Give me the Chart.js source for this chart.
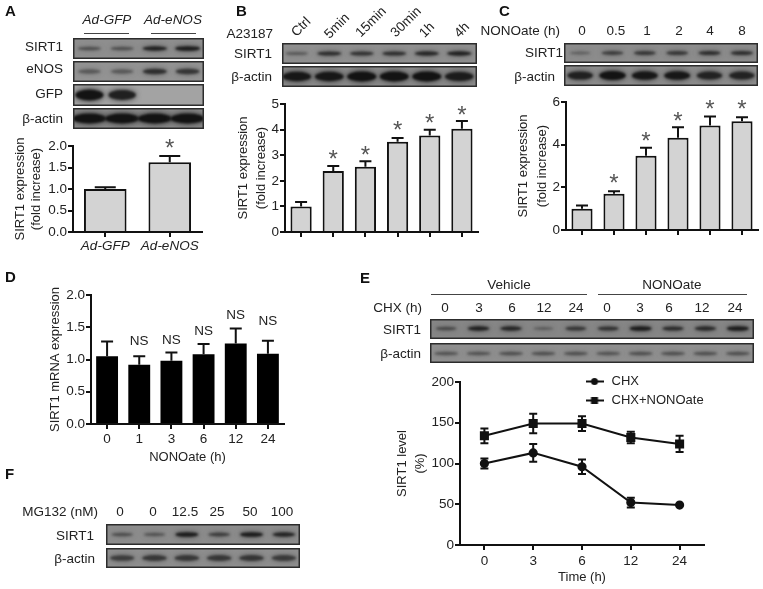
<!DOCTYPE html>
<html><head><meta charset="utf-8">
<script src="https://cdn.jsdelivr.net/npm/chart.js@4"></script>
<style>
html,body{margin:0;padding:0;background:#fff;width:763px;height:589px;overflow:hidden}
#page{position:relative;width:763px;height:589px;filter:blur(.4px)}
canvas{position:absolute;display:block}
.t{position:absolute;font:13.5px "Liberation Sans",Arial,sans-serif;color:#222;white-space:nowrap;line-height:16px}
.rule{position:absolute;height:1px;background:#444}
</style></head><body><div id="page"></div>
<script>
/* ---------- data ---------- */
const catA=['Ad-GFP','Ad-eNOS'];
const valA=[1.0,1.62];
const errA=[1.04,1.77];
const starA=[null,2.07];
const catB=['Ctrl','5min','15min','30min','1h','4h'];
const valB=[1.0,2.38,2.55,3.53,3.77,4.03];
const errB=[1.17,2.58,2.76,3.67,3.99,4.34];
const starB=[null,3.05,3.24,4.18,4.49,4.77];
const catC=['0','0.5','1','2','4','8'];
const valC=[1.0,1.7,3.48,4.32,4.9,5.1];
const errC=[1.15,1.82,3.85,4.82,5.32,5.28];
const starC=[null,2.44,4.45,5.39,5.91,5.91];
const catD=['0','1','3','6','12','24'];
const valD=[1.05,0.92,0.98,1.08,1.25,1.09];
const errD=[1.28,1.05,1.11,1.24,1.48,1.29];
const nsD=[null,1.29,1.305,1.44,1.69,1.60];
const catE=['0','3','6','12','24'];
const chx=[100,113,96,52,49];
const chxErr=[6,11,9,6,0];
const nono=[134,149,149,132,124];
const nonoErr=[9,12,9,7,10];
const catELanes=['0','3','6','12','24','0','3','6','12','24'];
const catF=['0','0','12.5','25','50','100'];
/* band intensities on the blots */
const bandA1=[.42,.42,.8,.85], bandA2=[.36,.36,.68,.62], bandA3=[1,.82,0,0], bandA4=[1,1,1,1];
const bandB1=[.35,.7,.65,.68,.75,.8], bandB2=[.9,.9,1,.95,.95,.85];
const bandC1=[.3,.55,.6,.6,.68,.68], bandC2=[.8,1,.9,.9,.78,.78];
const bandE1=[.45,.8,.75,.3,.6,.65,.85,.7,.72,.85], bandE2=[.4,.4,.42,.42,.42,.4,.42,.42,.42,.42];
const bandF1=[.42,.38,.85,.55,.85,.78], bandF2=[.55,.6,.6,.6,.62,.58];

/* ---------- helpers ---------- */
const page=document.getElementById('page');
const FONT='"Liberation Sans",Arial,sans-serif';
Chart.defaults.font.family=FONT; Chart.defaults.font.size=13; Chart.defaults.color='#222';
Chart.defaults.animation=false; Chart.defaults.responsive=false; Chart.defaults.devicePixelRatio=1;

function txt(s,x,y,align,css){ // y is the vertical centre; align l/c/r refers to x
  const d=document.createElement('div'); d.className='t'; d.textContent=s;
  const tx=align==='r'?'-100%':align==='c'?'-50%':'0';
  d.style.left=x+'px'; d.style.top=y+'px';
  d.style.transform=`translate(${tx},-50%)`+(css&&css.rot?` rotate(${css.rot}deg)`:'');
  if(css){ for(const k in css) if(k!=='rot') d.style[k]=css[k]; }
  page.appendChild(d); return d;
}
function rule(x1,x2,y){const d=document.createElement('div');d.className='rule';d.style.cssText=`left:${x1}px;width:${x2-x1}px;top:${y}px`;page.appendChild(d);}
function newCanvas(x,y,w,h){const c=document.createElement('canvas');c.width=w;c.height=h;c.style.left=x+'px';c.style.top=y+'px';c.style.width=w+'px';c.style.height=h+'px';page.appendChild(c);return c;}

function bandPlugin(o){return {id:'bands',
 beforeDatasetsDraw(chart){
  const c=chart.ctx, W=chart.width,H=chart.height;
  c.save();
  c.fillStyle=o.bg; c.fillRect(0,0,W,H);
  const meta=chart.getDatasetMeta(0), vals=chart.data.datasets[0].data;
  meta.data.forEach((el,i)=>{
    const v=vals[i]; if(!v) return;
    const cx=el.x+(o.dx||0), cy=H/2+(o.dy||0), w=o.w*(.84+.16*v), h=o.h*(.45+.55*v);
    c.filter='blur(2.5px)'; c.fillStyle=`rgba(50,50,50,${Math.min(.5,v*.55)})`;
    c.beginPath(); c.ellipse(cx,cy,w*.52,h*.62,0,0,Math.PI*2); c.fill();
    c.filter='blur(1.2px)'; c.fillStyle=`rgba(15,15,15,${Math.min(.95,v*1.0)})`;
    c.beginPath(); c.ellipse(cx,cy,w*.47,h*.42,0,0,Math.PI*2); c.fill();
  });
  c.filter='none';
  c.strokeStyle='#2c2c2c'; c.lineWidth=1.5; c.strokeRect(.75,.75,W-1.5,H-1.5);
  c.restore();
 }};}
function blot(x1,y1,x2,y2,lanes,vals,o){
  new Chart(newCanvas(x1,y1,x2-x1,y2-y1),{type:'bar',
    data:{labels:lanes,datasets:[{data:vals,backgroundColor:'rgba(0,0,0,0)',borderWidth:0}]},
    options:{layout:{padding:0},
      plugins:{legend:{display:false},tooltip:{enabled:false}},
      scales:{x:{display:false},y:{display:false,min:0,max:1}}},
    plugins:[bandPlugin(o)]});
}

function whisker(o){return {id:'whisker',
 afterDatasetsDraw(chart){
  const c=chart.ctx, xs=chart.scales.x, ys=chart.scales.y;
  c.save(); c.strokeStyle='#111'; c.lineWidth=2;
  (o.series||[]).forEach(s=>{
    s.tops.forEach((t,i)=>{
      if(t==null) return;
      const x=xs.getPixelForValue(i), yT=ys.getPixelForValue(t), yB=ys.getPixelForValue(s.bottoms[i]);
      if(Math.abs(yB-yT)<.5) return;
      c.beginPath();
      c.moveTo(x,yB); c.lineTo(x,yT);
      c.moveTo(x-o.cap/2,yT); c.lineTo(x+o.cap/2,yT);
      if(o.both){c.moveTo(x-o.cap/2,yB); c.lineTo(x+o.cap/2,yB);}
      c.stroke();
    });
  });
  c.textAlign='center';
  (o.notes||[]).forEach(s=>{
    c.font=s.font; c.fillStyle=s.color;
    s.values.forEach((v,i)=>{
      if(v==null) return;
      const x=xs.getPixelForValue(i), y=ys.getPixelForValue(v);
      c.textBaseline=s.baseline; c.fillText(s.text,x,y+(s.offset||0));
    });
  });
  c.restore();
 }};}

function axes(o){
  const [l,t,r,b]=o.box;
  return {
   layout:{padding:{left:0,top:t,right:763-r,bottom:0}},
   scales:{
    x:{type:'category',offset:true,
       border:{display:true,color:'#111',width:2},
       grid:{offset:false,drawOnChartArea:false,drawTicks:true,color:'#111',lineWidth:2,tickLength:5,tickColor:'#111',tickWidth:2},
       ticks:{display:o.xLabels!==false,autoSkip:false,maxRotation:0,minRotation:0,padding:o.xPad||1,color:'#222',font:{size:13.5,style:o.xItalic?'italic':'normal'}},
       title:o.xTitle?{display:true,text:o.xTitle,color:'#222',font:{size:13,lineHeight:1.2},padding:{top:0,bottom:589-o.xTitleY-8}}:{display:false},
       afterFit(s){s.height=589-b;}},
    y:{min:0,max:o.max,
       border:{display:true,color:'#111',width:2},
       grid:{drawOnChartArea:false,drawTicks:true,color:'#111',lineWidth:2,tickLength:5,tickColor:'#111',tickWidth:2},
       ticks:{stepSize:o.step,padding:1,color:'#222',font:{size:13.5},callback:v=>o.fixed?Number(v).toFixed(o.fixed):v},
       title:{display:true,text:o.yTitle,color:'#222',font:{size:13,lineHeight:o.yLH/13},padding:{top:o.yTitleX-o.yLH/2,bottom:0}},
       afterFit(s){s.width=l;}}
   }};
}
function barChart(o){
  const ax=axes(o);
  new Chart(newCanvas(0,0,763,589),{type:'bar',
    data:{labels:o.labels,datasets:[{data:o.values,backgroundColor:o.fill,borderColor:'#111',borderWidth:o.border,borderSkipped:'bottom',barPercentage:o.bw||.66,categoryPercentage:1}]},
    options:{...ax,plugins:{legend:{display:false},tooltip:{enabled:false}}},
    plugins:[whisker({cap:o.cap,series:[{tops:o.errs,bottoms:o.values}],notes:o.notes})]});
}
const starNote=vals=>({text:'*',values:vals,font:'24px '+FONT,color:'#555',baseline:'alphabetic',offset:13.5});

/* ---------- A ---------- */
txt('A',5,10,'l',{font:'bold 15px '+FONT,color:'#111'});
txt('Ad-GFP',107,20,'c',{fontStyle:'italic',fontSize:'13.5px'});
txt('Ad-eNOS',173,20,'c',{fontStyle:'italic',fontSize:'13.5px'});
rule(84,129,33); rule(151,196,33);
[['SIRT1',47],['eNOS',69],['GFP',94],['β-actin',119]].forEach(a=>txt(a[0],63,a[1],'r'));
blot(73,38,204,59,catA.concat(catA),bandA1,{bg:'#8e8e8e',w:27,h:6});
blot(73,61,204,82,catA.concat(catA),bandA2,{bg:'#939393',w:27,h:8});
blot(73,84,204,106,catA.concat(catA),bandA3,{bg:'#a3a3a3',w:30,h:13});
blot(73,108,204,129,catA.concat(catA),bandA4,{bg:'#8a8a8a',w:36,h:12});
barChart({box:[73,146,202,232],labels:catA,values:valA,errs:errA,max:2,step:.5,fixed:1,fill:'#d3d3d3',border:2,cap:21,
  yTitle:['SIRT1 expression','(fold increase)'],yTitleX:20,yLH:16,xItalic:true,bw:.66,xPad:0,
  notes:[starNote(starA)]});

/* ---------- B ---------- */
txt('B',236,10,'l',{font:'bold 15px '+FONT,color:'#111'});
txt('A23187',273,34,'r');
txt('SIRT1',272,54,'r'); txt('β-actin',272,77,'r');
[[301,27],[337,26],[371,22],[406,22],[427,30],[462,30]].forEach((p,i)=>txt(catB[i],p[0],p[1],'c',{rot:-45}));
blot(282,43,477,64,catB,bandB1,{bg:'#8f8f8f',w:27,h:6,dx:-1.5});
blot(282,66,477,87,catB,bandB2,{bg:'#8a8a8a',w:31,h:12,dx:-1.5});
barChart({box:[285,104,478,232],labels:catB,values:valB,errs:errB,max:5,step:1,fill:'#d3d3d3',border:2,cap:12,
  yTitle:['SIRT1 expression','(fold increase)'],yTitleX:243,yLH:18,xLabels:false,
  notes:[starNote(starB)]});

/* ---------- C ---------- */
txt('C',499,10,'l',{font:'bold 15px '+FONT,color:'#111'});
txt('NONOate (h)',560,31,'r');
[582,616,647,679,710,742].forEach((x,i)=>txt(catC[i],x,31,'c'));
txt('SIRT1',563,53,'r'); txt('β-actin',555,77,'r');
blot(564,43,758,63,catC,bandC1,{bg:'#8c8c8c',w:25,h:6});
blot(564,65,758,86,catC,bandC2,{bg:'#8c8c8c',w:28,h:11});
barChart({box:[566,102,758,230],labels:catC,values:valC,errs:errC,max:6,step:2,fill:'#d3d3d3',border:2,cap:12,
  yTitle:['SIRT1 expression','(fold increase)'],yTitleX:523,yLH:19,xLabels:false,
  notes:[starNote(starC)]});

/* ---------- D ---------- */
txt('D',5,276,'l',{font:'bold 15px '+FONT,color:'#111'});
barChart({box:[91,295,284,424],labels:catD,values:valD,errs:errD,max:2,step:.5,fixed:1,fill:'#000',border:0,cap:12,bw:.68,
  yTitle:'SIRT1 mRNA expression',yTitleX:55,yLH:16,xTitle:'NONOate (h)',xTitleY:457,xPad:2,
  notes:[{text:'NS',values:nsD,font:'13.5px '+FONT,color:'#222',baseline:'middle'}]});

/* ---------- E ---------- */
txt('E',360,277,'l',{font:'bold 15px '+FONT,color:'#111'});
txt('Vehicle',509,285,'c'); txt('NONOate',672,285,'c');
rule(431,587,294); rule(598,747,294);
txt('CHX (h)',422,308,'r');
[445,479,512,544,576,607,640,669,702,735].forEach((x,i)=>txt(catELanes[i],x,308,'c'));
txt('SIRT1',421,330,'r'); txt('β-actin',421,354,'r');
blot(430,319,754,339,catELanes,bandE1,{bg:'#868686',w:24,h:6,dy:-.5});
blot(430,343,754,363,catELanes,bandE2,{bg:'#8f8f8f',w:28,h:6,dy:.5});

function legendIcon(kind){
  const c=document.createElement('canvas'); c.width=18; c.height=9;
  const x=c.getContext('2d'); x.fillStyle=x.strokeStyle='#111'; x.lineWidth=2;
  x.beginPath(); x.moveTo(0,4.5); x.lineTo(18,4.5); x.stroke();
  if(kind==='circle'){x.beginPath(); x.arc(9,4.5,3.5,0,Math.PI*2); x.fill();}
  else x.fillRect(5.5,1,7,7);
  return c;
}
const legendMove={id:'legendMove',beforeDraw(chart){
  const lg=chart.legend, dx=578-lg.left, dy=369-lg.top;
  lg.left+=dx; lg.right+=dx; lg.top+=dy; lg.bottom+=dy;
}};
const axE=axes({box:[460,382,704,545],max:200,step:50,yTitle:['SIRT1 level','(%)'],yTitleX:402,yLH:18,
  xTitle:'Time (h)',xTitleY:577,xPad:3});
new Chart(newCanvas(0,0,763,589),{type:'line',
  data:{labels:catE,datasets:[
    {label:'CHX',data:chx,borderColor:'#111',backgroundColor:'#111',borderWidth:2,pointStyle:'circle',pointRadius:3.6,tension:0},
    {label:'CHX+NONOate',data:nono,borderColor:'#111',backgroundColor:'#111',borderWidth:2,pointStyle:'rect',pointRadius:5,tension:0}]},
  options:{...axE,plugins:{tooltip:{enabled:false},
    legend:{display:true,position:'chartArea',align:'start',
      labels:{color:'#222',font:{size:13},usePointStyle:true,pointStyleWidth:21,padding:6,
        generateLabels:ch=>ch.data.datasets.map((d,i)=>({text:d.label,datasetIndex:i,fontColor:'#222',pointStyle:legendIcon(d.pointStyle),hidden:false}))}}}},
  plugins:[whisker({cap:8,both:true,series:[
      {tops:chx.map((v,i)=>v+chxErr[i]),bottoms:chx.map((v,i)=>v-chxErr[i])},
      {tops:nono.map((v,i)=>v+nonoErr[i]),bottoms:nono.map((v,i)=>v-nonoErr[i])}]}),legendMove]});

/* ---------- F ---------- */
txt('F',5,473,'l',{font:'bold 15px '+FONT,color:'#111'});
txt('MG132 (nM)',98,512,'r');
[120,153,185,217,250,282].forEach((x,i)=>txt(catF[i],x,512,'c'));
txt('SIRT1',94,536,'r'); txt('β-actin',95,559,'r');
blot(106,524,300,545,catF,bandF1,{bg:'#8c8c8c',w:25,h:6});
blot(106,548,300,568,catF,bandF2,{bg:'#8e8e8e',w:28,h:9});
</script></body></html>
